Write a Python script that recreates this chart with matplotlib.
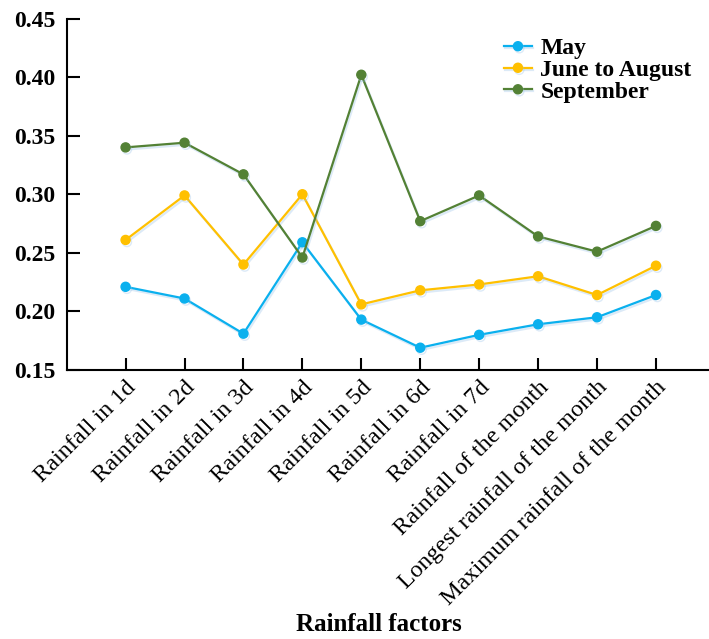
import matplotlib
matplotlib.use("Agg")
import matplotlib.pyplot as plt
import matplotlib.patheffects as pe

categories = ["Rainfall in 1d", "Rainfall in 2d", "Rainfall in 3d", "Rainfall in 4d",
              "Rainfall in 5d", "Rainfall in 6d", "Rainfall in 7d",
              "Rainfall of the month", "Longest rainfall of the month",
              "Maximum rainfall of the month"]
may = [0.221, 0.211, 0.181, 0.259, 0.193, 0.169, 0.180, 0.189, 0.195, 0.214]
june_aug = [0.261, 0.299, 0.240, 0.300, 0.206, 0.218, 0.223, 0.230, 0.214, 0.239]
september = [0.340, 0.344, 0.317, 0.246, 0.402, 0.277, 0.299, 0.264, 0.251, 0.273]
series_names = ["May", "June to August", "September"]
colors = ["#0AB0EE", "#FFC000", "#538135"]
yticks = [0.15, 0.20, 0.25, 0.30, 0.35, 0.40, 0.45]

plt.rcParams['font.family'] = ['Liberation Serif', 'DejaVu Serif']

fig = plt.figure(figsize=(7.09, 6.39), dpi=100)
ax = fig.add_axes([0.094, 0.421, 0.906, 0.550])

x = list(range(len(categories)))
shadow = [pe.SimpleLineShadow(offset=(1.0, -1.5), shadow_color="#9cc3ea", alpha=0.35), pe.Normal()]
for vals, name, c in zip([may, june_aug, september], series_names, colors):
    ax.plot(x, vals, color=c, lw=1.6, marker='o', ms=6.5, label=name, path_effects=shadow)

ax.set_xlim(-1, 9.9)
ax.set_ylim(0.15, 0.45)
ax.set_yticks(yticks)
ax.set_yticklabels([f"{v:.2f}" for v in yticks], fontsize=17, fontweight='bold')
ax.set_xticks(x)
ax.set_xticklabels(categories, rotation=45, ha='right', rotation_mode='anchor', fontsize=17.5)
ax.tick_params(axis='both', direction='in', length=9, width=1.5, colors='black')
ax.tick_params(axis='x', pad=5)
ax.tick_params(axis='y', pad=8)
for s in ['top', 'right']:
    ax.spines[s].set_visible(False)
for s in ['left', 'bottom']:
    ax.spines[s].set_linewidth(1.5)

fig.text(0.534, 0.012, "Rainfall factors", ha='center', va='baseline', fontsize=18, fontweight='bold')

leg = ax.legend(loc='upper right', bbox_to_anchor=(0.995, 0.985), frameon=False,
                prop={'size': 17, 'weight': 'bold'}, handlelength=1.2, handletextpad=0.35,
                labelspacing=0.0, borderaxespad=0.2)

fig.savefig("out.png", dpi=100)
